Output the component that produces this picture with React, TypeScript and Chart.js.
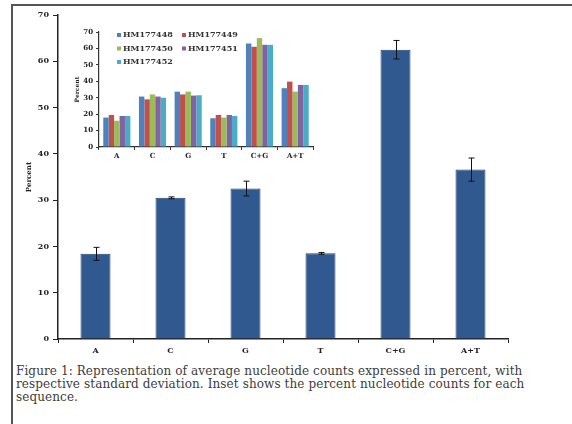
import React, { useEffect, useRef } from "react";
import { Chart, registerables } from "chart.js";
Chart.register(...registerables);

const categories = ["A", "C", "G", "T", "C+G", "A+T"];
const meanPercent = [18.4, 30.5, 32.5, 18.5, 62.5, 36.6];
const stdDev = [1.4, 0.2, 1.6, 0.2, 2.0, 2.5];

const seriesNames = ["HM177448", "HM177449", "HM177450", "HM177451", "HM177452"];
const hm177448 = [17.9, 30.7, 33.7, 17.5, 63.0, 35.8];
const hm177449 = [19.5, 29.0, 32.0, 19.5, 61.0, 39.8];
const hm177450 = [16.0, 32.0, 33.7, 17.9, 66.3, 33.7];
const hm177451 = [18.9, 30.7, 31.3, 19.5, 62.2, 37.8];
const hm177452 = [18.9, 30.0, 31.5, 18.9, 62.2, 37.8];
const seriesColors = ["#4f81bd", "#c0504d", "#9bbb59", "#8064a2", "#4bacc6"];

const yMin = 0;
const yMax = 70;
const yStep = 10;

const FONT = "DejaVu Serif";

const errorBarPlugin = {
  id: "errorBars",
  afterDatasetsDraw(chart: any) {
    const meta = chart.getDatasetMeta(0);
    const y = chart.scales.y;
    const ctx = chart.ctx;
    ctx.save();
    ctx.strokeStyle = "#111";
    ctx.lineWidth = 1;
    meta.data.forEach((bar: any, i: number) => {
      const top = y.getPixelForValue(meanPercent[i] + stdDev[i]);
      const bot = y.getPixelForValue(meanPercent[i] - stdDev[i]);
      const x = Math.round(bar.x) + 0.5;
      ctx.beginPath();
      ctx.moveTo(x, top);
      ctx.lineTo(x, bot);
      ctx.moveTo(x - 3, top);
      ctx.lineTo(x + 3, top);
      ctx.moveTo(x - 3, bot);
      ctx.lineTo(x + 3, bot);
      ctx.stroke();
    });
    ctx.restore();
  },
};

const insetLegendPlugin = {
  id: "insetLegend",
  afterDraw(chart: any) {
    const ctx = chart.ctx;
    const ds = chart.data.datasets;
    ctx.save();
    ctx.font = `bold 8px "${FONT}"`;
    ctx.textBaseline = "middle";
    ds.forEach((d: any, i: number) => {
      const col = i % 2;
      const row = Math.floor(i / 2);
      const x = 57 + col * 65;
      const yy = 15 + row * 13.5;
      ctx.fillStyle = d.backgroundColor;
      ctx.fillRect(x, yy - 2, 4, 4);
      ctx.fillStyle = "#333";
      ctx.fillText(d.label, x + 6, yy);
    });
    ctx.restore();
  },
};

function MainChart() {
  const ref = useRef<HTMLCanvasElement>(null);
  useEffect(() => {
    const chart = new Chart(ref.current!, {
      type: "bar",
      data: {
        labels: categories,
        datasets: [
          {
            data: meanPercent,
            backgroundColor: "#30598f",
            borderColor: "#22436d",
            borderWidth: 1,
            barPercentage: 0.8,
            categoryPercentage: 0.5,
          },
        ],
      },
      options: {
        animation: false,
        responsive: true,
        maintainAspectRatio: false,
        layout: { padding: { left: 0, right: 64, top: 15, bottom: 0 } },
        plugins: { legend: { display: false }, tooltip: { enabled: false } },
        scales: {
          x: {
            grid: { drawOnChartArea: false, drawTicks: true, tickLength: 4, color: "#222", offset: true },
            border: { color: "#222", width: 1.5 },
            ticks: { color: "#222", font: { family: FONT, size: 8, weight: "bold" }, padding: 3 },
            afterFit(s: any) {
              s.height = 21;
            },
          },
          y: {
            min: yMin,
            max: yMax,
            grid: { drawOnChartArea: false, drawTicks: true, tickLength: 5, color: "#222" },
            border: { color: "#222", width: 1.5 },
            ticks: { stepSize: yStep, color: "#222", font: { family: FONT, size: 8, weight: "bold" }, padding: 4 },
            title: {
              display: true,
              text: "Percent",
              color: "#222",
              font: { family: FONT, size: 7, weight: "bold" },
              padding: { top: 25, bottom: 0 },
            },
            afterFit(s: any) {
              s.width = 58;
            },
          },
        },
      },
      plugins: [errorBarPlugin],
    });
    return () => chart.destroy();
  }, []);
  return (
    <div style={{ position: "absolute", left: 0, top: 0, width: 572, height: 360 }}>
      <canvas ref={ref} />
    </div>
  );
}

function InsetChart() {
  const ref = useRef<HTMLCanvasElement>(null);
  useEffect(() => {
    const series = [hm177448, hm177449, hm177450, hm177451, hm177452];
    const chart = new Chart(ref.current!, {
      type: "bar",
      data: {
        labels: categories,
        datasets: series.map((s, i) => ({
          label: seriesNames[i],
          data: s,
          backgroundColor: seriesColors[i],
          borderWidth: 0,
          barPercentage: 1.0,
          categoryPercentage: 0.76,
        })),
      },
      options: {
        animation: false,
        responsive: true,
        maintainAspectRatio: false,
        layout: { padding: { left: 0, right: 7, top: 12, bottom: 0 } },
        plugins: { legend: { display: false }, tooltip: { enabled: false } },
        scales: {
          x: {
            grid: { drawOnChartArea: false, drawTicks: true, tickLength: 3, color: "#333", offset: true },
            border: { color: "#333", width: 1.2 },
            ticks: { color: "#222", font: { family: FONT, size: 7, weight: "bold" }, padding: 2 },
            afterFit(s: any) {
              s.height = 18;
            },
          },
          y: {
            min: yMin,
            max: yMax,
            grid: { drawOnChartArea: false, drawTicks: true, tickLength: 3, color: "#333" },
            border: { color: "#333", width: 1.2 },
            ticks: { stepSize: yStep, color: "#222", font: { family: FONT, size: 7, weight: "bold" }, padding: 3 },
            title: {
              display: true,
              text: "Percent",
              color: "#222",
              font: { family: FONT, size: 6, weight: "bold" },
              padding: { top: 14, bottom: 0 },
            },
            afterFit(s: any) {
              s.width = 39;
            },
          },
        },
      },
      plugins: [insetLegendPlugin],
    });
    return () => chart.destroy();
  }, []);
  return (
    <div style={{ position: "absolute", left: 60, top: 20, width: 260, height: 145 }}>
      <canvas ref={ref} />
    </div>
  );
}

export default function App() {
  return (
    <div
      style={{
        position: "fixed",
        left: 0,
        top: 0,
        width: 572,
        height: 424,
        background: "#fff",
        overflow: "hidden",
      }}
    >
      <div
        style={{
          position: "absolute",
          left: 11,
          top: 4,
          width: 561,
          height: 430,
          borderTop: "2px solid #555",
          borderLeft: "2px solid #555",
        }}
      />
      <MainChart />
      <InsetChart />
      <div
        style={{
          position: "absolute",
          left: 16,
          top: 365,
          fontFamily: FONT,
          fontSize: 12,
          lineHeight: "13px",
          letterSpacing: "0.1px",
          color: "#3c3c3c",
          whiteSpace: "pre",
        }}
      >
        {"Figure 1: Representation of average nucleotide counts expressed in percent, with\nrespective standard deviation. Inset shows the percent nucleotide counts for each\nsequence."}
      </div>
    </div>
  );
}
